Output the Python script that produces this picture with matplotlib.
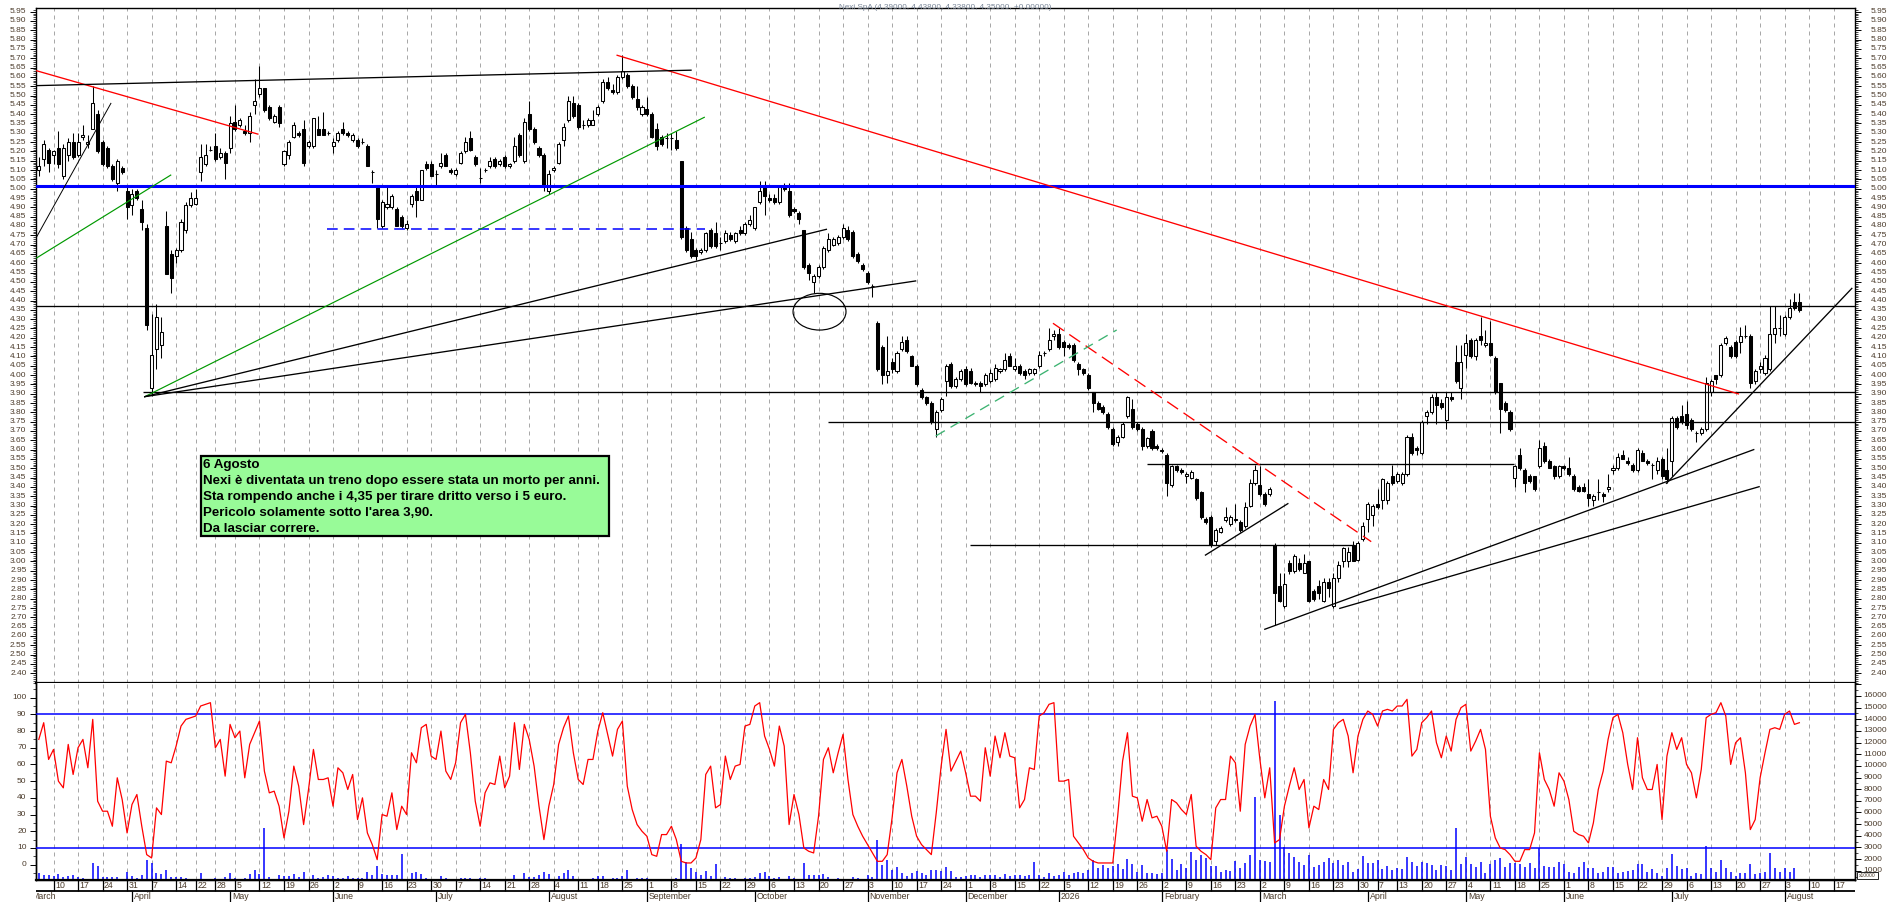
import numpy as np
import pandas as pd
import matplotlib
matplotlib.use('Agg')
import matplotlib.pyplot as plt
from matplotlib.patches import Rectangle, Ellipse
from matplotlib.ticker import MultipleLocator, FixedLocator
from matplotlib.transforms import blended_transform_factory

plt.rcParams['font.family'] = ['Liberation Sans', 'DejaVu Sans']

# ---------------- data ----------------
START, END = '2025-03-05', '2026-08-06'
HOLIDAYS = ['2025-04-18', '2025-04-21', '2025-05-01', '2025-08-15', '2025-12-24',
            '2025-12-25', '2025-12-26', '2025-12-31', '2026-01-01', '2026-04-03',
            '2026-04-06', '2026-05-01']
MONTHS = ['January', 'February', 'March', 'April', 'May', 'June', 'July',
          'August', 'September', 'October', 'November', 'December']

OPEN = [5.10,5.16,5.21,5.18,5.22,5.07,5.18,5.25,5.18,5.28, 5.24,5.32,5.40,5.25,5.22,5.12,5.03,5.11,4.99,4.91,
        4.99,4.89,4.79,3.93,4.14,4.16,4.80,4.65,4.64,4.67, 4.78,4.91,4.92,5.09,5.13,5.21,5.23,5.17,5.19,5.22,
        5.36,5.34,5.31,5.30,5.45,5.51,5.54,5.44,5.36,5.44, 5.13,5.18,5.28,5.30,5.32,5.23,5.23,5.32,5.32,5.30,
        5.23,5.26,5.32,5.30,5.26,5.26,5.25,5.23,5.09,5.02, 4.80,4.90,4.90,4.89,4.85,4.79,4.92,4.99,4.94,5.13,
        5.13,5.08,5.12,5.18,5.10,5.08,5.14,5.20,5.27,5.17, 5.06,5.10,5.12,5.16,5.13,5.17,5.12,5.15,5.29,5.15,
        5.40,5.32,5.22,5.18,4.99,5.10,5.14,5.26,5.37,5.46, 5.45,5.34,5.34,5.34,5.40,5.47,5.57,5.53,5.52,5.60,
        5.61,5.55,5.48,5.40,5.43,5.40,5.32,5.28,5.27,5.27, 5.26,5.15,4.79,4.73,4.67,4.66,4.67,4.78,4.76,4.71,
        4.72,4.75,4.72,4.78,4.76,4.81,4.79,4.93,5.01,4.95, 4.95,4.93,5.01,4.99,4.89,4.87,4.78,4.59,4.50,4.53,
        4.58,4.67,4.70,4.71,4.74,4.78,4.77,4.65,4.59,4.55, 4.48,4.28,4.15,4.00,4.07,4.02,4.14,4.19,4.10,4.05,
        3.92,3.88,3.85,3.71,3.81,3.97,4.06,3.94,3.98,4.03, 4.02,3.96,3.96,3.95,3.97,3.98,4.02,4.03,4.10,4.03,
        4.05,4.02,4.01,4.01,4.05,4.12,4.14,4.21,4.22,4.18, 4.16,4.16,4.06,4.03,4.00,3.91,3.85,3.83,3.79,3.71,
        3.64,3.67,3.78,3.82,3.74,3.71,3.62,3.70,3.62,3.60, 3.57,3.41,3.51,3.49,3.46,3.45,3.44,3.37,3.23,3.24,
        3.11,3.16,3.22,3.20,3.23,3.21,3.19,3.30,3.42,3.41, 3.36,3.36,3.09,2.87,2.76,2.99,2.95,2.99,2.94,3.00,
        2.84,2.87,2.79,2.89,2.76,2.91,3.00,3.00,3.09,3.01, 3.12,3.23,3.25,3.31,3.33,3.33,3.46,3.43,3.42,3.47,
        3.67,3.61,3.58,3.78,3.80,3.88,3.85,3.76,3.88,4.07, 3.93,4.11,4.19,4.10,4.21,4.16,4.17,4.09,3.96,3.85,
        3.80,3.45,3.57,3.49,3.46,3.46,3.51,3.62,3.54,3.51, 3.46,3.51,3.50,3.46,3.40,3.40,3.36,3.33,3.37,3.36,
        3.39,3.49,3.50,3.57,3.54,3.52,3.49,3.58,3.54,3.52, 3.49,3.55,3.49,3.54,3.77,3.78,3.79,3.76,3.69,3.69,
        3.71,3.91,4.00,4.00,4.17,4.15,4.18,4.18,4.21,4.21, 3.97,4.03,4.01,4.03,4.22,4.25,4.22,4.31,4.39,4.39]
HIGH = [5.17,5.26,5.22,5.21,5.31,5.24,5.27,5.30,5.30,5.34, 5.29,5.55,5.42,5.26,5.23,5.13,5.16,5.12,5.02,5.00,
        5.00,4.94,4.81,4.33,4.38,4.31,4.88,4.67,4.68,4.84, 4.93,4.98,5.00,5.24,5.24,5.23,5.30,5.22,5.20,5.39,
        5.45,5.38,5.34,5.41,5.59,5.66,5.54,5.45,5.40,5.45, 5.21,5.26,5.36,5.31,5.37,5.26,5.38,5.39,5.41,5.31,
        5.27,5.31,5.36,5.31,5.30,5.27,5.27,5.24,5.10,5.02, 4.94,5.01,4.97,4.90,4.86,4.83,4.97,5.01,5.10,5.15,
        5.15,5.10,5.19,5.19,5.11,5.11,5.20,5.28,5.31,5.18, 5.11,5.11,5.17,5.17,5.16,5.18,5.14,5.28,5.30,5.38,
        5.47,5.33,5.23,5.19,5.10,5.12,5.25,5.35,5.50,5.50, 5.46,5.37,5.38,5.42,5.45,5.59,5.60,5.56,5.61,5.72,
        5.62,5.56,5.55,5.45,5.49,5.41,5.35,5.29,5.30,5.30, 5.31,5.15,4.80,4.77,4.68,4.68,4.77,4.79,4.82,4.74,
        4.78,4.77,4.77,4.80,4.82,4.86,4.90,5.04,5.04,4.97, 4.97,5.02,5.03,5.03,4.90,4.88,4.78,4.60,4.54,4.59,
        4.69,4.76,4.74,4.75,4.81,4.80,4.78,4.66,4.60,4.56, 4.49,4.29,4.16,4.21,4.09,4.13,4.21,4.21,4.11,4.06,
        3.93,3.89,3.86,3.81,3.88,4.06,4.07,3.99,4.03,4.05, 4.04,3.97,3.97,4.01,4.03,4.06,4.04,4.12,4.12,4.09,
        4.06,4.03,4.04,4.04,4.13,4.13,4.25,4.24,4.25,4.19, 4.17,4.17,4.07,4.04,4.01,3.91,3.86,3.84,3.80,3.72,
        3.68,3.75,3.89,3.87,3.75,3.72,3.67,3.71,3.63,3.61, 3.58,3.52,3.52,3.50,3.48,3.49,3.45,3.38,3.24,3.25,
        3.18,3.19,3.29,3.25,3.31,3.22,3.32,3.44,3.52,3.51, 3.37,3.40,3.10,2.94,2.94,3.01,3.04,3.02,3.04,3.00,
        2.85,2.90,2.91,2.91,2.94,3.00,3.08,3.08,3.11,3.11, 3.21,3.32,3.31,3.39,3.45,3.43,3.52,3.48,3.48,3.68,
        3.69,3.62,3.76,3.81,3.90,3.91,3.87,3.91,3.91,4.16, 4.16,4.22,4.20,4.20,4.31,4.24,4.29,4.10,3.96,3.86,
        3.81,3.52,3.61,3.50,3.47,3.46,3.65,3.64,3.55,3.52, 3.52,3.52,3.56,3.47,3.41,3.42,3.44,3.36,3.44,3.37,
        3.47,3.52,3.58,3.60,3.56,3.53,3.61,3.60,3.55,3.53, 3.56,3.56,3.61,3.78,3.78,3.84,3.86,3.77,3.70,3.72,
        3.99,3.98,4.00,4.17,4.21,4.16,4.19,4.26,4.27,4.22, 4.03,4.07,4.11,4.37,4.37,4.32,4.32,4.41,4.44,4.44]
LOW = [5.07,5.12,5.09,5.13,5.11,5.05,5.15,5.16,5.17,5.26, 5.22,5.32,5.19,5.12,5.11,5.04,4.99,5.08,4.84,4.86,
       4.94,4.78,4.24,3.89,4.03,4.09,4.54,4.44,4.60,4.66, 4.76,4.90,4.91,5.04,5.12,5.20,5.15,5.16,5.05,5.19,
       5.31,5.33,5.29,5.25,5.40,5.49,5.41,5.37,5.35,5.33, 5.12,5.16,5.27,5.28,5.12,5.22,5.22,5.29,5.29,5.29,
       5.19,5.25,5.29,5.28,5.25,5.22,5.24,5.12,5.03,4.79, 4.79,4.89,4.89,4.80,4.79,4.78,4.90,4.85,4.94,5.10,
       5.07,5.02,5.11,5.12,5.08,5.07,5.13,5.19,5.20,5.12, 5.03,5.09,5.11,5.11,5.12,5.11,5.11,5.14,5.17,5.14,
       5.31,5.24,5.17,4.99,4.97,5.09,5.13,5.23,5.36,5.38, 5.32,5.32,5.33,5.34,5.39,5.46,5.53,5.51,5.51,5.59,
       5.54,5.48,5.42,5.39,5.39,5.27,5.21,5.23,5.22,5.21, 5.21,4.73,4.66,4.63,4.62,4.65,4.66,4.68,4.68,4.67,
       4.71,4.72,4.71,4.75,4.75,4.80,4.78,4.92,4.86,4.93, 4.92,4.92,4.99,4.85,4.87,4.81,4.57,4.51,4.44,4.52,
       4.57,4.66,4.69,4.70,4.73,4.72,4.63,4.60,4.56,4.49, 4.42,4.02,3.95,3.96,4.01,4.01,4.13,4.12,4.05,3.94,
       3.87,3.84,3.74,3.67,3.80,3.89,3.93,3.93,3.97,3.94, 3.95,3.94,3.91,3.94,3.96,3.97,4.01,4.02,4.05,4.02,
       4.00,3.98,4.00,4.00,4.04,4.10,4.13,4.19,4.14,4.10, 4.14,4.07,4.00,4.00,3.92,3.80,3.81,3.79,3.71,3.62,
       3.62,3.66,3.77,3.71,3.70,3.60,3.61,3.60,3.60,3.58, 3.35,3.40,3.48,3.47,3.42,3.44,3.33,3.23,3.20,3.08,
       3.09,3.15,3.21,3.19,3.21,3.16,3.18,3.29,3.41,3.35, 3.30,3.35,2.66,2.78,2.75,2.93,2.94,2.95,2.94,2.78,
       2.79,2.80,2.78,2.81,2.75,2.89,2.97,2.97,3.00,3.00, 3.11,3.16,3.19,3.28,3.28,3.31,3.41,3.42,3.41,3.46,
       3.57,3.57,3.57,3.74,3.79,3.74,3.82,3.71,3.86,3.96, 3.87,4.04,4.09,4.08,4.16,4.15,4.10,3.90,3.69,3.80,
       3.70,3.40,3.49,3.37,3.42,3.38,3.50,3.53,3.50,3.44, 3.45,3.49,3.46,3.38,3.37,3.37,3.30,3.30,3.33,3.32,
       3.37,3.47,3.49,3.55,3.52,3.48,3.48,3.54,3.52,3.44, 3.47,3.44,3.42,3.46,3.71,3.74,3.71,3.70,3.64,3.68,
       3.70,3.89,3.95,3.99,4.16,4.09,4.09,4.12,4.20,3.93, 3.95,4.01,4.00,4.02,4.17,4.21,4.21,4.30,4.35,4.34]
CLOSE = [5.12,5.24,5.14,5.20,5.13,5.22,5.25,5.17,5.25,5.29, 5.25,5.46,5.20,5.13,5.12,5.05,5.15,5.09,4.90,4.97,
         4.95,4.82,4.27,4.11,4.31,4.23,4.54,4.52,4.67,4.82, 4.91,4.95,4.95,5.17,5.18,5.21,5.16,5.19,5.14,5.35,
         5.32,5.37,5.30,5.39,5.47,5.54,5.42,5.38,5.39,5.35, 5.20,5.25,5.34,5.29,5.14,5.25,5.38,5.29,5.29,5.30,
         5.25,5.30,5.30,5.29,5.29,5.23,5.25,5.12,5.09,4.84, 4.93,4.92,4.96,4.80,4.80,4.81,4.96,4.94,5.10,5.11,
         5.07,5.08,5.14,5.12,5.09,5.10,5.19,5.25,5.21,5.13, 5.06,5.10,5.15,5.12,5.15,5.12,5.13,5.23,5.18,5.36,
         5.32,5.25,5.18,5.02,5.08,5.11,5.24,5.33,5.47,5.39, 5.33,5.34,5.37,5.37,5.44,5.57,5.54,5.52,5.60,5.63,
         5.55,5.49,5.44,5.44,5.40,5.28,5.23,5.24,5.27,5.27, 5.22,4.74,4.67,4.64,4.64,4.67,4.76,4.69,4.69,4.71,
         4.76,4.73,4.76,4.76,4.81,4.83,4.90,4.99,4.96,4.94, 4.93,5.01,5.00,4.86,4.88,4.84,4.58,4.55,4.53,4.58,
         4.68,4.73,4.73,4.74,4.79,4.73,4.64,4.61,4.57,4.50, 4.48,4.03,4.00,4.02,4.03,4.12,4.18,4.13,4.05,3.95,
         3.88,3.85,3.75,3.80,3.87,4.05,3.94,3.98,4.02,3.95, 3.96,3.95,3.94,4.00,4.01,4.04,4.03,4.08,4.05,4.05,
         4.01,4.00,4.03,4.03,4.11,4.12,4.19,4.22,4.15,4.15, 4.15,4.08,4.03,4.01,3.93,3.85,3.82,3.80,3.72,3.63,
         3.67,3.74,3.88,3.72,3.71,3.62,3.66,3.61,3.61,3.59, 3.42,3.51,3.49,3.48,3.47,3.48,3.34,3.24,3.21,3.09,
         3.17,3.18,3.24,3.24,3.22,3.17,3.29,3.42,3.49,3.36, 3.31,3.39,2.83,2.79,2.88,2.95,3.03,2.96,2.99,2.79,
         2.80,2.83,2.89,2.86,2.91,2.98,3.07,3.05,3.00,3.10, 3.19,3.31,3.30,3.29,3.44,3.42,3.42,3.47,3.47,3.67,
         3.58,3.60,3.75,3.80,3.88,3.84,3.83,3.88,3.87,3.97, 4.07,4.17,4.10,4.19,4.19,4.17,4.11,3.91,3.82,3.81,
         3.71,3.51,3.50,3.42,3.43,3.39,3.61,3.54,3.50,3.46, 3.51,3.50,3.47,3.39,3.38,3.38,3.34,3.35,3.37,3.35,
         3.40,3.50,3.56,3.55,3.53,3.49,3.60,3.54,3.53,3.52, 3.54,3.46,3.44,3.77,3.72,3.75,3.73,3.71,3.69,3.71,
         3.96,3.97,3.98,4.16,4.20,4.10,4.10,4.21,4.21,3.96, 4.02,4.05,4.09,4.22,4.25,4.25,4.31,4.36,4.36,4.35]

OSC = [75,85,63,69,50,46,72,54,70,75, 58,87,38,32,32,23,52,39,19,36, 42,23,6,4,34,30,62,61,71,83,
       87,88,89,95,96,97,70,75,53,84, 76,80,52,72,79,86,56,43,44,35, 16,32,59,47,24,45,69,51,51,52,
       35,58,55,45,54,27,40,19,12,3, 30,29,43,21,35,30,67,61,82,84, 65,63,80,56,51,61,85,90,67,38,
       23,43,49,48,65,46,53,85,57,84, 75,59,35,15,35,48,72,82,89,67, 51,48,63,63,80,91,78,65,81,86,
       47,33,24,20,17,6,5,18,18,23, 15,2,1,1,4,15,54,59,34,36, 65,51,59,60,83,84,95,97,77,69,
       59,83,71,24,42,30,10,8,7,29, 63,70,55,67,78,51,30,23,17,12, 7,2,2,6,28,55,63,47,29,17,
       12,9,6,31,59,81,56,62,68,55, 41,41,38,70,53,77,64,79,65,64, 34,39,58,57,89,91,96,97,50,50,
       51,17,13,9,4,2,1,1,1,1, 29,62,79,41,40,26,39,28,29,23, 8,39,37,33,30,42,11,8,6,3,
       34,39,39,65,61,32,72,83,90,63, 40,58,13,15,35,47,58,45,51,22, 35,33,51,45,81,85,87,77,55,77,
       87,92,90,83,92,93,92,95,95,99, 65,69,85,88,92,73,64,77,68,87, 94,96,68,74,81,69,29,16,10,9,
       6,2,2,9,9,19,67,51,45,35, 55,50,39,20,18,17,13,25,45,56, 75,88,90,79,60,45,76,52,45,45,
       60,27,65,79,69,76,60,55,40,57, 88,90,91,97,89,60,73,76,55,21, 27,52,67,81,82,81,90,92,84,85]

VOLUME = [770,630,630,540,715,430,540,630,430,340, 300,1690,1400,485,485,485,430,285,855,540,
          340,630,1915,1690,770,715,1060,430,430,485, 340,260,300,770,260,260,340,300,485,770,
          340,260,340,715,1060,715,4690,430,260,630, 540,540,715,485,855,260,630,340,430,630,
          540,340,340,540,340,340,340,855,630,1400, 715,630,630,630,2430,260,770,915,715,340,
          260,260,540,340,260,260,340,340,340,285, 340,400,260,260,260,260,260,630,260,830,
          485,430,630,855,715,260,540,830,1060,540, 260,200,260,400,540,540,260,340,340,540,
          1060,260,340,340,340,260,260,260,260,260, 340,3290,1775,1200,915,630,1000,540,1575,260,
          430,340,340,260,340,340,430,830,915,540, 340,430,260,540,340,260,1690,630,630,630,
          715,430,260,340,260,260,430,340,260,630, 485,3635,1490,1915,1060,1345,830,540,770,1000,
          770,630,1060,1060,1000,1345,1000,430,485,540, 630,630,485,630,630,630,485,715,540,630,
          630,540,630,1775,630,485,830,540,630,915, 630,770,915,830,1060,1915,1200,1490,1200,1400,
          1575,1115,1975,1575,915,1490,770,770,715,830, 2775,1975,1060,1575,1200,2630,1915,2345,2060,1400,
          1400,915,1060,1000,1860,1200,1630,2345,7355,1915, 1860,1775,15600,5780,3000,2490,2200,1775,1490,2345,
          1345,1490,1775,2060,1630,1915,1490,1775,915,1115, 2260,1690,1630,1915,1145,1400,1060,1200,1115,2200,
          1775,1400,1775,1690,1490,1060,1490,1400,1060,4690, 1575,2200,1575,1345,1775,770,1575,1915,2060,1285,
          1690,1630,1575,1345,1630,1200,2920,1400,1285,1345, 1775,1575,915,830,1285,1775,1200,1200,770,915,
          1285,1345,830,915,1000,1060,1575,1575,915,1115, 830,540,1200,2430,1400,1115,1200,540,830,715,
          3120,1200,915,1915,1200,915,540,830,770,1575, 690,770,915,2490,1200,915,1200,915,1200,260]

# horizontal levels: (price, start index, end index or None = edge)
LEVELS_BLACK = [(4.371, None, None), (3.907, 21.2, None), (3.746, 161.0, None),
                (3.521, 225.9, 300.9), (3.088, 189.8, 268.2)]
LEVEL_BLUE = 5.016
LEVEL_BLUE_DASH = (4.782, 58.7, 135.9)
# trend lines: (i0, p0, i1, p1)
RED_LINES = [(-0.6, 5.634, 44.8, 5.292), (117.8, 5.717, 346.7, 3.898)]
RED_DASHED = [(206.8, 4.278, 271.7, 3.106)]
GREEN_LINES = [(-0.6, 4.626, 26.9, 5.073), (21.6, 3.884, 135.7, 5.383)]
GREEN_DASHED = [(182.9, 3.673, 219.8, 4.242)]
BLACK_LINES = [(-0.6, 5.553, 133.0, 5.636), (21.6, 3.884, 160.6, 4.782),
               (21.6, 3.884, 178.8, 4.505), (237.9, 3.034, 254.7, 3.310),
               (250.0, 2.636, 349.7, 3.600), (265.3, 2.748, 350.8, 3.401),
               (331.9, 3.419, 369.7, 4.465)]
BLACK_THIN = [(-0.6, 4.734, 14.7, 5.458)]
ELLIPSE = (159.2, 4.340, 10.8, 0.197)

TITLE = 'Nexi SpA (4.39000, 4.43800, 4.33800, 4.35000, +0.00000)'
NOTE = ['6 Agosto',
        'Nexi è diventata un treno dopo essere stata un morto per anni.',
        'Sta rompendo anche i 4,35 per tirare dritto verso i 5 euro.',
        "Pericolo solamente sotto l'area 3,90.",
        'Da lasciar correre.']

# ---------------- calendar ----------------
hol = pd.to_datetime(HOLIDAYS)
dates = pd.bdate_range(START, END)
dates = dates[~dates.isin(hol)]
future = pd.bdate_range(pd.Timestamp(END) + pd.Timedelta(days=1), '2026-08-31')
all_dates = list(dates) + list(future)
n = len(CLOSE)
idx = np.arange(n)

XMIN, XMAX = -0.571, 370.35

week_starts = []
prev = None
for k, d in enumerate(all_dates):
    wk = d.isocalendar()[:2]
    if wk != prev:
        week_starts.append(k)
    prev = wk
week_starts = [k for k in week_starts[1:]
               if all_dates[k] != pd.Timestamp('2025-12-29') and k < XMAX]

month_starts = []
prevm = None
for k, d in enumerate(all_dates):
    m = (d.year, d.month)
    if m != prevm:
        month_starts.append(k)
    prevm = m
month_starts = [k for k in month_starts[1:] if k < XMAX]

# ---------------- figure ----------------
W, H = 1890, 902
fig = plt.figure(figsize=(W / 100, H / 100), dpi=100)
fig.patch.set_facecolor('white')
fx = lambda px: px / W
fy = lambda py: 1 - py / H
XL, XR = 36, 1855
YT, YS, YB = 8.3, 683.3, 880.0
axw = fx(XR) - fx(XL)
ax = fig.add_axes([fx(XL), fy(YS), axw, fy(YT) - fy(YS)])
ax3 = fig.add_axes([fx(XL), fy(YB), axw, fy(YS) - fy(YB)])   # volume (right scale)
ax2 = fig.add_axes([fx(XL), fy(YB), axw, fy(YS) - fy(YB)])   # oscillator (left scale)
axl = fig.add_axes([fx(XL), 0, axw, fy(YB)])
ax2.patch.set_visible(False)

for a in (ax, ax2, ax3, axl):
    a.set_xlim(XMIN, XMAX)
ax.set_ylim(2.346, 5.968)
ax2.set_ylim(-9.2, 108.6)
ax3.set_ylim(201, 17090)
axl.set_ylim(0, 22)
axl.axis('off')

TC = '#4b3b2b'
GRID = dict(color='#a8a8a8', lw=0.72, ls=(0, (4, 4)), zorder=0.5)
for k in week_starts:
    ax.axvline(k, **GRID)
    ax3.axvline(k, **GRID)

# spines / ticks
for a in (ax, ax2, ax3):
    for s in a.spines.values():
        s.set_linewidth(1.0)
        s.set_color('black')
ax.spines['bottom'].set_linewidth(1.6)
ax2.spines['top'].set_visible(False)
ax3.spines['top'].set_visible(False)
ax2.spines['bottom'].set_linewidth(1.6)
for a in (ax, ax2, ax3):
    a.tick_params(axis='x', which='both', bottom=False, top=False, labelbottom=False)

ax.yaxis.set_major_locator(FixedLocator(np.round(np.arange(2.40, 5.951, 0.05), 2)))
ax.yaxis.set_minor_locator(MultipleLocator(0.01))
ax.tick_params(axis='y', which='both', left=True, right=True, labelleft=False,
               labelright=False, direction='out')
ax.tick_params(axis='y', which='major', length=4, width=0.7)
ax.tick_params(axis='y', which='minor', length=2, width=0.5)

ax2.yaxis.set_major_locator(MultipleLocator(10))
ax2.yaxis.set_minor_locator(MultipleLocator(5))
ax2.tick_params(axis='y', which='both', left=True, right=False, labelleft=False, direction='out')
ax2.tick_params(axis='y', which='major', length=4, width=0.7)
ax2.tick_params(axis='y', which='minor', length=2, width=0.5)
ax3.yaxis.set_major_locator(MultipleLocator(1000))
ax3.yaxis.set_minor_locator(MultipleLocator(500))
ax3.tick_params(axis='y', which='both', left=False, right=True, labelleft=False,
                labelright=False, direction='out')
ax3.tick_params(axis='y', which='major', length=4, width=0.7)
ax3.tick_params(axis='y', which='minor', length=2, width=0.5)

tl = blended_transform_factory(fig.transFigure, ax.transData)
for v in np.arange(2.40, 5.951, 0.05):
    ax.text(fx(26.5), v, f'{v:.2f}', transform=tl, ha='right', va='center',
            fontsize=6, color=TC, clip_on=False)
    ax.text(fx(1870.5), v, f'{v:.2f}', transform=tl, ha='left', va='center',
            fontsize=6, color=TC, clip_on=False)
tl2 = blended_transform_factory(fig.transFigure, ax2.transData)
for v in range(0, 101, 10):
    ax2.text(fx(26.5), v, str(v), transform=tl2, ha='right', va='center',
             fontsize=6, color=TC, clip_on=False)
tl3 = blended_transform_factory(fig.transFigure, ax3.transData)
for v in range(1000, 16001, 1000):
    ax3.text(fx(1863.5), v, str(v), transform=tl3, ha='left', va='center',
             fontsize=6, color=TC, clip_on=False)

# ---------------- price panel ----------------
O = np.array(OPEN); Hh = np.array(HIGH); Lo = np.array(LOW); C = np.array(CLOSE)
up = C >= O
ax.vlines(idx, Lo, Hh, color='black', lw=0.75, zorder=3)
ax.bar(idx[up], (C - O)[up], bottom=O[up], width=0.62, facecolor='white',
       edgecolor='black', linewidth=0.75, zorder=4)
ax.bar(idx[~up], (O - C)[~up], bottom=C[~up], width=0.62, facecolor='black',
       edgecolor='black', linewidth=0.75, zorder=4)

ax.axhline(LEVEL_BLUE, color='#0000ff', lw=2.2, zorder=5)
for p, a0, a1 in LEVELS_BLACK:
    ax.hlines(p, XMIN if a0 is None else a0, XMAX if a1 is None else a1,
              color='black', lw=0.95, zorder=5)
p, a0, a1 = LEVEL_BLUE_DASH
ax.hlines(p, a0, a1, color='#0000ff', lw=1.1, linestyles=(0, (7, 4)), zorder=5)

for i0, p0, i1, p1 in RED_LINES:
    ax.plot([i0, i1], [p0, p1], color='#ff0000', lw=0.95, zorder=5, solid_capstyle='butt')
for i0, p0, i1, p1 in RED_DASHED:
    ax.plot([i0, i1], [p0, p1], color='#ff0000', lw=0.95, ls=(0, (10, 5)), zorder=5)
for i0, p0, i1, p1 in GREEN_LINES:
    ax.plot([i0, i1], [p0, p1], color='#009900', lw=0.85, zorder=5)
for i0, p0, i1, p1 in GREEN_DASHED:
    ax.plot([i0, i1], [p0, p1], color='#3cb371', lw=0.95, ls=(0, (8, 5)), zorder=5)
for i0, p0, i1, p1 in BLACK_LINES:
    ax.plot([i0, i1], [p0, p1], color='black', lw=0.95, zorder=5)
for i0, p0, i1, p1 in BLACK_THIN:
    ax.plot([i0, i1], [p0, p1], color='black', lw=0.7, zorder=5)
ex, ey, ew, eh = ELLIPSE
ax.add_patch(Ellipse((ex, ey), ew, eh, fill=False, edgecolor='black', lw=0.85, zorder=5))

# ---------------- lower panel ----------------
ax3.vlines(idx, 201, VOLUME, color='#0000ff', lw=1.1, zorder=2)
ax2.plot(idx, OSC, color='#ff0000', lw=0.9, zorder=4)
ax2.axhline(90, color='#0000ff', lw=1.1, zorder=3)
ax2.axhline(10, color='#0000ff', lw=1.1, zorder=3)

# ---------------- date label rows ----------------
axl.hlines(11, XMIN, XMAX, color='black', lw=1.3)
for k in week_starts:
    axl.vlines(k, 11, 22, color='black', lw=0.9)
    axl.text(k + 0.3, 16.2, str(all_dates[k].day), ha='left', va='center',
             fontsize=6.3, color=TC, clip_on=True)
for k in month_starts:
    axl.vlines(k, 0, 11, color='black', lw=0.9)
    d = all_dates[k]
    lab = str(d.year) if d.month == 1 else MONTHS[d.month - 1]
    axl.text(k + 0.4, 5.2, lab, ha='left', va='center', fontsize=6.3, color=TC, clip_on=True)
axl.text(-2 + 0.4, 5.2, 'March', ha='left', va='center', fontsize=6.3, color=TC, clip_on=True)

# ---------------- texts ----------------
fig.text(fx(945.5), fy(7.3), TITLE, ha='center', va='center', fontsize=5.9,
         color='#7a8799', zorder=10)

fig.add_artist(Rectangle((fx(200.8), fy(536)), fx(609) - fx(200.8), fy(456) - fy(536),
                         transform=fig.transFigure, facecolor='#98fb98',
                         edgecolor='black', lw=1.6, zorder=20))
for line, yc in zip(NOTE, [465, 481, 496.7, 512.7, 529]):
    fig.text(fx(203.3), fy(yc), line, ha='left', va='center', fontsize=9.6,
             fontweight='bold', color='black', zorder=21)

fig.add_artist(Rectangle((fx(1857), fy(879.3)), fx(1878) - fx(1857), fy(871.7) - fy(879.3),
                         transform=fig.transFigure, facecolor='white',
                         edgecolor='black', lw=0.6, zorder=20))
fig.text(fx(1867.5), fy(875.5), 'x10000', ha='center', va='center', fontsize=3.6,
         color=TC, zorder=21)

fig.savefig('out.png', dpi=100, facecolor='white')
